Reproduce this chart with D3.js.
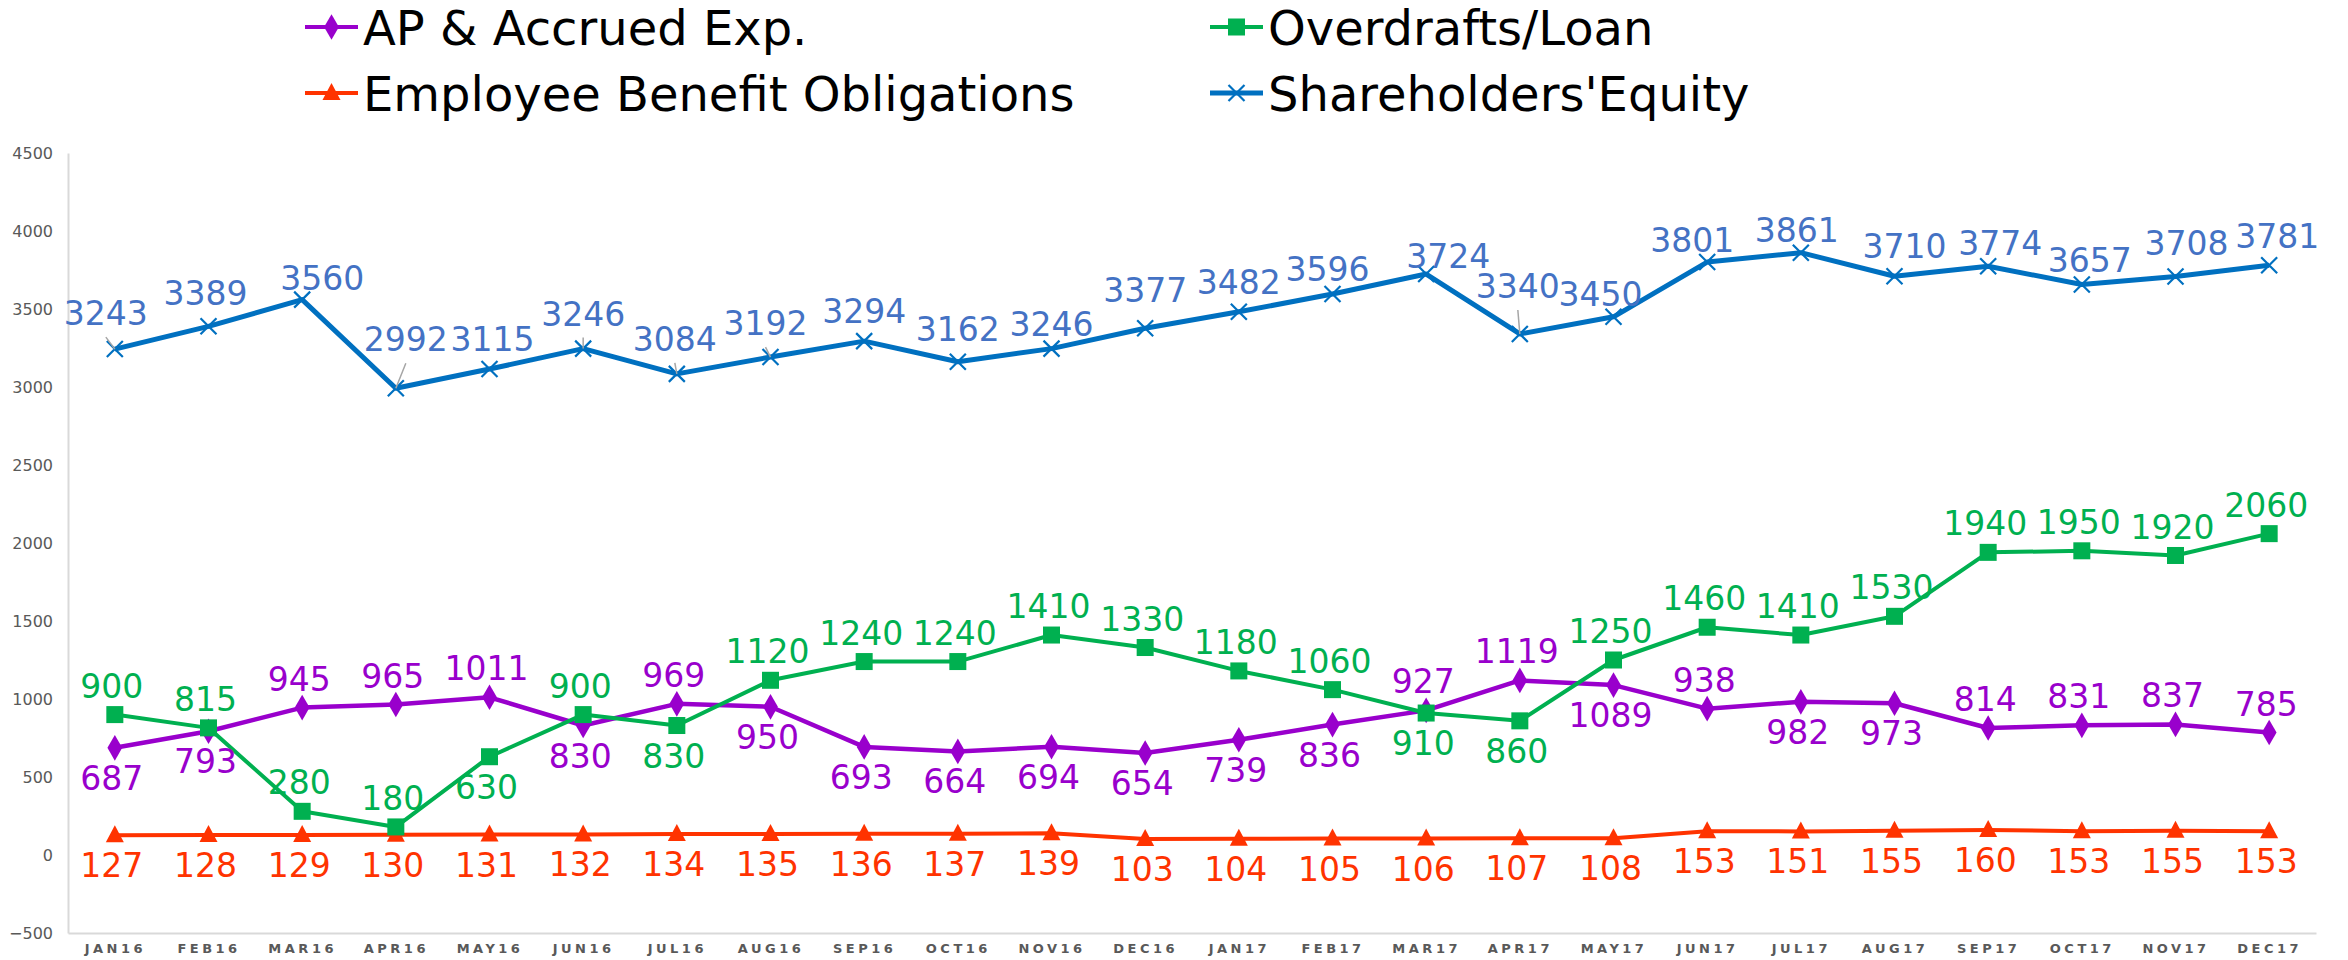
<!DOCTYPE html>
<html><head><meta charset="utf-8">
<script src="https://cdn.jsdelivr.net/npm/d3@7"></script>
<style>
body{margin:0;background:#fff;}
svg{display:block;font-family:"DejaVu Sans",Verdana,sans-serif;}
</style>
</head><body>
<svg id="chart" width="2348" height="960"></svg>
<script>
// ---------- data ----------
const months = ["JAN16","FEB16","MAR16","APR16","MAY16","JUN16","JUL16","AUG16","SEP16","OCT16","NOV16","DEC16",
                "JAN17","FEB17","MAR17","APR17","MAY17","JUN17","JUL17","AUG17","SEP17","OCT17","NOV17","DEC17"];
const apAccrued = [687,793,945,965,1011,830,969,950,693,664,694,654,739,836,927,1119,1089,938,982,973,814,831,837,785];
const overdrafts = [900,815,280,180,630,900,830,1120,1240,1240,1410,1330,1180,1060,910,860,1250,1460,1410,1530,1940,1950,1920,2060];
const employeeBenefit = [127,128,129,130,131,132,134,135,136,137,139,103,104,105,106,107,108,153,151,155,160,153,155,153];
const equity = [3243,3389,3560,2992,3115,3246,3084,3192,3294,3162,3246,3377,3482,3596,3724,3340,3450,3801,3861,3710,3774,3657,3708,3781];
const yTicks = [-500,0,500,1000,1500,2000,2500,3000,3500,4000,4500];
const seriesNames = ["AP & Accrued Exp.","Overdrafts/Loan","Employee Benefit Obligations","Shareholders'Equity"];

// label placement (1 = above point, -1 = below point)
const apSide = [-1,-1,1,1,1,-1,1,-1,-1,-1,-1,-1,-1,-1,1,1,-1,1,-1,-1,1,1,1,1];
const odSide = [1,1,1,1,-1,1,-1,1,1,1,1,1,1,1,-1,-1,1,1,1,1,1,1,1,1];
const ebSide = Array(24).fill(-1);
// equity label nudges [dx, dy] of label centre from point, and leader flags
const eqNudge = [[-9,-36],[-3,-33],[20,-22],[10,-49],[3,-30],[0,-35],[-2,-35],[-5,-34],[0,-30],[0,-33],[0,-25],[0,-38],
                 [0,-30],[-5,-25],[22,-18],[-2,-48],[-13,-23],[-15,-22],[-4,-23],[10,-30],[12,-23],[8,-25],[11,-34],[8,-29]];
const eqLeader = [1,0,0,1,0,1,1,1,0,0,0,0,0,0,0,1,0,0,0,0,0,0,0,0];

// ---------- setup ----------
const svg = d3.select("#chart");
const plotLeft = 68, plotRight = 2316, plotTop = 153, plotBottom = 933;
const x = d3.scalePoint().domain(months).range([plotLeft, plotRight]).padding(0.5);
const y = d3.scaleLinear().domain([-500, 4500]).range([plotBottom, plotTop]);

const C = {
  ap: "#9900CC", apLabel: "#9900CC",
  od: "#00B050", odLabel: "#00B050",
  eb: "#FF3300", ebLabel: "#FF3300",
  eq: "#0070C0", eqLabel: "#4472C4"
};
const FONT = '"DejaVu Sans",Verdana,sans-serif';

// axes
const yAxis = d3.axisLeft(y).tickValues(yTicks).tickSize(0).tickPadding(15).tickFormat(d3.format("d"));
const gy = svg.append("g").attr("transform", `translate(${plotLeft},0)`).call(yAxis);
gy.select(".domain").attr("stroke", "#D9D9D9").attr("stroke-width", 2);
gy.selectAll("text").attr("fill", "#595959").style("font-size", "16px").style("font-family", FONT);

const xAxis = d3.axisBottom(x).tickSize(0).tickPadding(11);
const gx = svg.append("g").attr("transform", `translate(0,${plotBottom})`).call(xAxis);
gx.select(".domain").attr("stroke", "#D9D9D9").attr("stroke-width", 2);
gx.selectAll("text").attr("fill", "#595959").style("font-size", "13px").style("font-weight", "bold")
  .style("letter-spacing", "3.5px").style("font-family", FONT);

// marker drawers
function marker(g, type, color, cx, cy) {
  if (type === "diamond") {
    g.append("path").attr("d", d3.symbol().type(d3.symbolDiamond).size(190)()).attr("transform", `translate(${cx},${cy})`).attr("fill", color);
  } else if (type === "square") {
    g.append("rect").attr("x", cx - 8.5).attr("y", cy - 8.5).attr("width", 17).attr("height", 17).attr("fill", color);
  } else if (type === "triangle") {
    g.append("path").attr("d", `M${cx},${cy-10}L${cx+9},${cy+7}L${cx-9},${cy+7}Z`).attr("fill", color);
  } else if (type === "x") {
    g.append("path").attr("d", `M${cx-8},${cy-8}L${cx+8},${cy+8}M${cx-8},${cy+8}L${cx+8},${cy-8}`)
      .attr("stroke", color).attr("stroke-width", 2.2).attr("fill", "none");
  }
}

const line = d3.line().x((d, i) => x(months[i])).y(d => y(d));

function drawSeries(values, color, width, type) {
  const g = svg.append("g");
  g.append("path").datum(values).attr("d", line).attr("fill", "none").attr("stroke", color)
    .attr("stroke-width", width).attr("stroke-linejoin", "round");
  values.forEach((v, i) => marker(g, type, color, x(months[i]), y(v)));
}

drawSeries(employeeBenefit, C.eb, 4, "triangle");
drawSeries(apAccrued, C.ap, 4.5, "diamond");
drawSeries(overdrafts, C.od, 4, "square");
drawSeries(equity, C.eq, 5, "x");

// data labels
const FS = 33;
function labels(values, sides, color) {
  const g = svg.append("g");
  values.forEach((v, i) => {
    const cy = y(v) + (sides[i] > 0 ? -29 : 30);
    g.append("text").attr("x", x(months[i]) - 3).attr("y", cy + FS * 0.365)
      .attr("text-anchor", "middle").attr("fill", color).style("font-size", FS + "px").text(v);
  });
}
labels(apAccrued, apSide, C.apLabel);
labels(overdrafts, odSide, C.odLabel);
labels(employeeBenefit, ebSide, C.ebLabel);

const ge = svg.append("g");
equity.forEach((v, i) => {
  const px = x(months[i]), py = y(v);
  const lx = px + eqNudge[i][0], ly = py + eqNudge[i][1];
  if (eqLeader[i]) {
    ge.append("line").attr("x1", px).attr("y1", py).attr("x2", lx).attr("y2", ly + 24)
      .attr("stroke", "#A6A6A6").attr("stroke-width", 1.5);
  }
  ge.append("text").attr("x", lx).attr("y", ly + FS * 0.365).attr("text-anchor", "middle")
    .attr("fill", C.eqLabel).style("font-size", FS + "px").text(v);
});

// legend
const legendItems = [
  {name: seriesNames[0], color: C.ap, type: "diamond", x: 305, y: 27},
  {name: seriesNames[1], color: C.od, type: "square", x: 1210, y: 27},
  {name: seriesNames[2], color: C.eb, type: "triangle", x: 305, y: 93},
  {name: seriesNames[3], color: C.eq, type: "x", x: 1210, y: 93}
];
const gl = svg.append("g");
legendItems.forEach(it => {
  gl.append("line").attr("x1", it.x).attr("x2", it.x + 53).attr("y1", it.y).attr("y2", it.y)
    .attr("stroke", it.color).attr("stroke-width", it.type === "x" ? 5 : 4);
  marker(gl, it.type, it.color, it.x + 26.5, it.y);
  gl.append("text").attr("x", it.x + 58).attr("y", it.y + 18).attr("fill", "#000")
    .style("font-size", "48px").text(it.name);
});
</script>
</body></html>
